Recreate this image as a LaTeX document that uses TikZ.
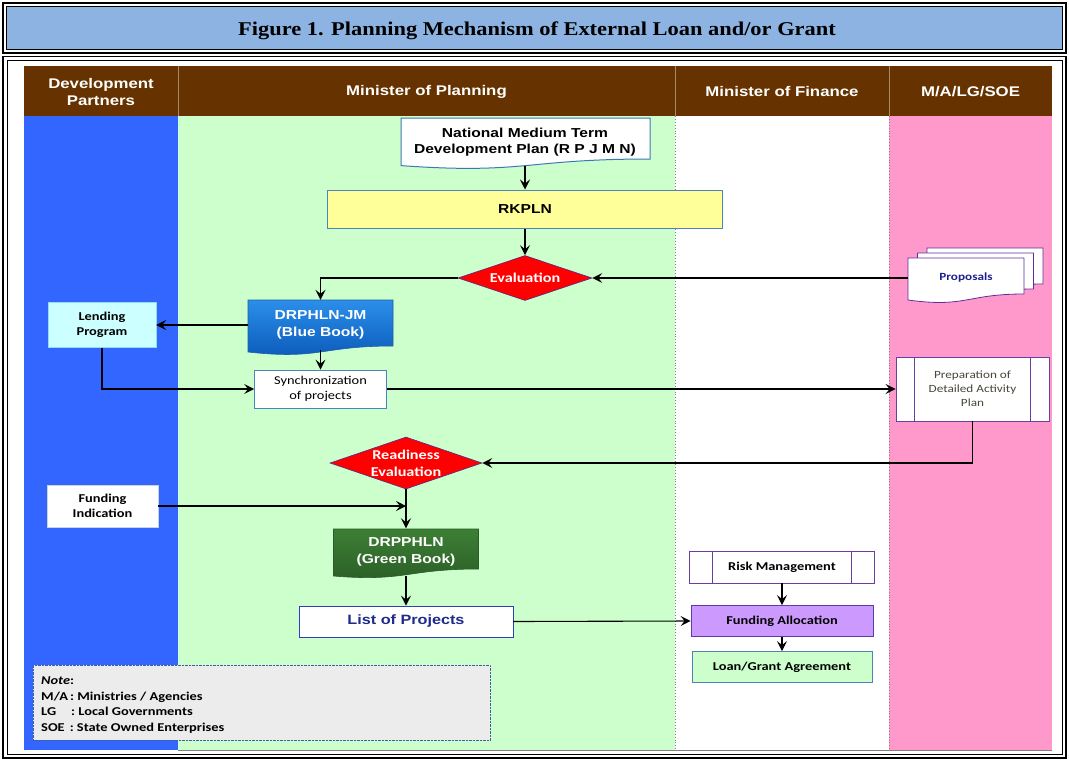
\documentclass[tikz,border=0pt]{standalone}
\usepackage{fontspec}
\newfontfamily\headfont[FakeStretch=1.2]{Liberation Sans}
\newfontfamily\bodyfont[FakeStretch=1.2]{Carlito}
\newfontfamily\titlefont[FakeStretch=1.15]{Liberation Serif}
\usetikzlibrary{shapes.geometric,arrows.meta}
\definecolor{titleblue}{HTML}{8DB3E2}
\definecolor{headbrown}{HTML}{663300}
\definecolor{headline}{HTML}{A68A6E}
\definecolor{devblue}{HTML}{3366FF}
\definecolor{plangreen}{HTML}{CCFFCC}
\definecolor{mapink}{HTML}{FF99CC}
\definecolor{lanegrey}{HTML}{808080}
\definecolor{notegrey}{HTML}{ECECEC}
\definecolor{noteedge}{HTML}{3F5FA0}
\definecolor{docedge}{HTML}{3C78B4}
\definecolor{rkyellow}{HTML}{FFFF99}
\definecolor{edgeblue}{HTML}{4F81BD}
\definecolor{diamred}{HTML}{FF0000}
\definecolor{diamedge}{HTML}{4B2C8C}
\definecolor{bookblue}{HTML}{0A58B8}
\definecolor{bookbluetop}{HTML}{2B8FEA}
\definecolor{bookedge}{HTML}{1F5FA8}
\definecolor{greentop}{HTML}{3D7F35}
\definecolor{greenbot}{HTML}{2B5E26}
\definecolor{greenedge}{HTML}{2A5A2A}
\definecolor{lendcyan}{HTML}{CCFFFF}
\definecolor{lendedge}{HTML}{8EDDF0}
\definecolor{propedge}{HTML}{5B2E9A}
\definecolor{proptext}{HTML}{1F1F8F}
\definecolor{procedge}{HTML}{6B3FA0}
\definecolor{listedge}{HTML}{2F3CC0}
\definecolor{listtext}{HTML}{1E2A8C}
\definecolor{allocpurple}{HTML}{CC99FF}
\definecolor{allocedge}{HTML}{5B3FA0}
\definecolor{preptext}{HTML}{4A4638}
\definecolor{fundedge}{HTML}{C8D4E0}

\begin{document}
\begin{tikzpicture}[x=1pt,y=-1pt,
  arr/.style={-{Stealth[length=10pt,width=10pt,inset=4pt]},line width=1.1pt},
  hd/.style={font=\headfont\bfseries\fontsize{14}{17}\selectfont,text=white,align=center},
  bigtext/.style={font=\headfont\bfseries\fontsize{13}{16.5}\selectfont,align=center,inner sep=0pt},
  smallbold/.style={font=\bodyfont\bfseries\fontsize{12}{15}\selectfont,align=center,inner sep=0pt},
  smallreg/.style={font=\bodyfont\fontsize{12}{15}\selectfont,align=center,inner sep=0pt},
  diam/.style={diamond,draw=diamedge,fill=diamred,line width=0.6pt,inner sep=0pt,shape aspect=2.9,
    text=white,align=center,font=\bodyfont\bfseries\fontsize{13.5}{17}\selectfont},
  proc/.style={draw=procedge,fill=white,line width=0.9pt}]
  \useasboundingbox (0,0) rectangle (1069,761);
  \fill[white] (0,0) rectangle (1069,761);

  \draw[line width=1.6pt] (3,3) rectangle (1066,53);
  \draw[fill=titleblue,line width=1pt] (6.5,6.5) rectangle (1062.5,49.5);
  \node[font=\titlefont\bfseries\fontsize{19.5}{23}\selectfont] (title) at (537,31)
    {Figure 1. Planning Mechanism of External Loan and/or Grant};
  \draw[line width=1.6pt] (3,56.5) rectangle (1066,758);
  \draw[line width=0.8pt] (7,60.5) rectangle (1062,754.5);

  \fill[headbrown] (24,66) rectangle (1052,116);
  \foreach \x in {178,675,889}
    \draw[headline,line width=0.8pt] (\x,66) -- (\x,116);
  \node[hd] (devhead) at (101,91.5) {Development\\Partners};
  \node[hd] (planhead) at (426.5,91.5) {Minister of Planning};
  \node[hd] (finhead) at (782,91.5) {Minister of Finance};
  \node[hd] (mahead) at (970.5,91.5) {M/A/LG/SOE};

  \fill[devblue] (24,116) rectangle (178,750);
  \fill[plangreen] (178,116) rectangle (675,750);
  \fill[mapink] (889,116) rectangle (1052,750);
  \foreach \x in {675,889}
    \draw[lanegrey,dotted,line width=0.9pt] (\x,116) -- (\x,750);
  \draw[lanegrey,line width=0.6pt] (178,750) -- (1052,750);

  \node[draw=noteedge,densely dotted,fill=notegrey,anchor=north west,minimum width=457pt,minimum height=75pt,
    inner sep=0pt] (notebox) at (33,665) {};
  \node[anchor=north west,align=left,inner sep=0pt,font=\bodyfont\bfseries\fontsize{12}{15.4}\selectfont]
    (notetext) at (41,677) {{\itshape Note}:\\
    M/A\,: Ministries / Agencies\\
    LG\hspace{15pt}: Local Governments\\
    SOE\hspace{5pt}: State Owned Enterprises};

  \draw[docedge,fill=white,line width=1pt] (401,118) -- (650,118) -- (650,159)
    .. controls (525,159) and (525,174.5) .. (401,165.6) -- cycle;
  \draw[bookedge,top color=bookbluetop,bottom color=bookblue,line width=0.6pt] (248,300) -- (393,300) -- (393,346)
    .. controls (320.5,346) and (320.5,360) .. (248,352) -- cycle;
  \draw[greenedge,top color=greentop,bottom color=greenbot,line width=0.6pt] (333.5,529) -- (478.5,529) -- (478.5,569)
    .. controls (406,569) and (406,582) .. (333.5,576) -- cycle;
  \foreach \s in {2,1,0}
    \draw[propedge,fill=white,line width=0.8pt,shift={(9.5*\s,-5*\s)}] (908,258) -- (1024,258) -- (1024,294)
      .. controls (966,294) and (966,308) .. (908,300) -- cycle;

  \node[bigtext,minimum width=249pt,minimum height=48pt] (rpjmn) at (525,142)
    {National Medium Term\\Development Plan (R P J M N)};
  \node[bigtext,draw=edgeblue,fill=rkyellow,line width=1pt,minimum width=395pt,minimum height=38pt]
    (rkpln) at (525,209) {RKPLN};
  \node[diam,minimum width=134pt,minimum height=45pt] (eval) at (525,278) {Evaluation};
  \node[smallbold,font=\bodyfont\bfseries\fontsize{11}{14}\selectfont,text=proptext,minimum width=116pt,minimum height=40pt]
    (proposals) at (966,278) {Proposals};
  \node[bigtext,text=white,minimum width=145pt,minimum height=50pt] (bluebook) at (320.5,325)
    {DRPHLN-JM\\(Blue Book)};
  \node[smallbold,draw=lendedge,fill=lendcyan,minimum width=108pt,minimum height=45pt] (lending) at (102,325)
    {Lending\\Program};
  \node[smallreg,draw=edgeblue,fill=white,line width=0.7pt,minimum width=132pt,minimum height=38pt] (sync) at (320.5,389)
    {Synchronization\\of projects};
  \node[proc,smallreg,font=\bodyfont\fontsize{11}{14}\selectfont,text=preptext,minimum width=153pt,minimum height=64pt]
    (prep) at (972.5,389) {Preparation of\\Detailed Activity\\Plan};
  \draw[procedge,line width=0.9pt] ([xshift=19pt]prep.north west) -- ([xshift=19pt]prep.south west);
  \draw[procedge,line width=0.9pt] ([xshift=-19pt]prep.north east) -- ([xshift=-19pt]prep.south east);
  \node[diam,minimum width=152pt,minimum height=52pt] (ready) at (406,463) {Readiness\\Evaluation};
  \node[smallbold,draw=fundedge,fill=white,minimum width=111pt,minimum height=42pt] (fundind) at (102.5,506)
    {Funding\\Indication};
  \node[bigtext,text=white,minimum width=145pt,minimum height=47pt] (greenbook) at (406,552)
    {DRPPHLN\\(Green Book)};
  \node[bigtext,font=\headfont\bfseries\fontsize{13.5}{16}\selectfont,text=listtext,draw=listedge,fill=white,line width=0.8pt,
    minimum width=214pt,minimum height=31pt] (list) at (406,621.5) {List of Projects};
  \node[proc,smallbold,minimum width=185pt,minimum height=32pt] (risk) at (782,567) {Risk Management};
  \draw[procedge,line width=0.9pt] ([xshift=23.5pt]risk.north west) -- ([xshift=23.5pt]risk.south west);
  \draw[procedge,line width=0.9pt] ([xshift=-23.5pt]risk.north east) -- ([xshift=-23.5pt]risk.south east);
  \node[smallbold,draw=allocedge,fill=allocpurple,line width=0.8pt,minimum width=182pt,minimum height=31pt]
    (fundalloc) at (782,621) {Funding Allocation};
  \node[smallbold,draw=edgeblue,fill=plangreen,line width=0.8pt,minimum width=180pt,minimum height=31pt]
    (loan) at (782,667) {Loan/Grant Agreement};

  \draw[arr] (rpjmn.south) -- (rkpln.north);
  \draw[arr] (rkpln.south) -- (eval.north);
  \draw[arr] (eval.west) -| (bluebook.north);
  \draw[arr] (proposals.west) -- (eval.east);
  \draw[arr] (bluebook.west) -- (lending.east);
  \draw[arr] (bluebook.south) -- (sync.north);
  \draw[arr] (lending.south) |- (sync.west);
  \draw[arr] (sync.east) -- (prep.west);
  \draw[arr] (prep.south) |- (ready.east);
  \draw[arr] (fundind.east) -- (fundind.east -| greenbook.north);
  \draw[arr] (ready.south) -- (greenbook.north);
  \draw[arr] (greenbook.south) -- (list.north);
  \draw[arr] (list.east) -- (fundalloc.west);
  \draw[arr] (risk.south) -- (fundalloc.north);
  \draw[arr] (fundalloc.south) -- (loan.north);
\end{tikzpicture}
\end{document}
